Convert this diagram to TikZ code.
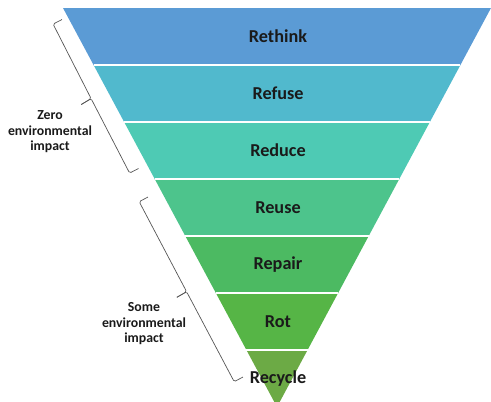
\documentclass[tikz,border=0pt]{standalone}
\usepackage{fontspec}
\setmainfont{Carlito}
\definecolor{cRethink}{HTML}{5B9BD5}
\definecolor{cRefuse}{HTML}{51B9CD}
\definecolor{cReduce}{HTML}{4ECAB4}
\definecolor{cReuse}{HTML}{4DC48C}
\definecolor{cRepair}{HTML}{4CBA62}
\definecolor{cRot}{HTML}{56B546}
\definecolor{cRecycle}{HTML}{6CAA45}
\definecolor{txt}{HTML}{1A1A1A}
\definecolor{brk}{HTML}{555555}
\begin{document}
\begin{tikzpicture}[x=1pt,y=-1pt,
  bandlabel/.style={font=\fontsize{18.2}{20}\selectfont\bfseries, text=txt, inner sep=0pt},
  sidelabel/.style={font=\fontsize{13.8}{15.5}\selectfont\bfseries, text=txt, align=center, inner sep=0pt},
  sep/.style={draw=white, line width=1.3pt},
  bracket/.style={draw=brk, line width=0.7pt, rounded corners=1.5pt}]
\useasboundingbox (0,0) rectangle (491,402);
% bands
\fill[cRethink]  (63,8) -- (491,8) -- (460.43,65) -- (93.57,65) -- cycle;
\fill[cRefuse]   (93.57,65) -- (460.43,65) -- (429.86,122) -- (124.14,122) -- cycle;
\fill[cReduce]   (124.14,122) -- (429.86,122) -- (399.29,179) -- (154.71,179) -- cycle;
\fill[cReuse]    (154.71,179) -- (399.29,179) -- (368.71,236) -- (185.29,236) -- cycle;
\fill[cRepair]   (185.29,236) -- (368.71,236) -- (338.14,293) -- (215.86,293) -- cycle;
\fill[cRot]      (215.86,293) -- (338.14,293) -- (307.57,350) -- (246.43,350) -- cycle;
\fill[cRecycle]  (246.43,350) -- (307.57,350) -- (277,407) -- cycle;
% separators
\draw[sep] (93.57,65) -- (460.43,65);
\draw[sep] (124.14,122) -- (429.86,122);
\draw[sep] (154.71,179) -- (399.29,179);
\draw[sep] (185.29,236) -- (368.71,236);
\draw[sep] (215.86,293) -- (338.14,293);
\draw[sep] (246.43,350) -- (307.57,350);
% band labels
\node[bandlabel] (rethink) at (278,36.5) {Rethink};
\node[bandlabel] (refuse)  at (278,93.5) {Refuse};
\node[bandlabel] (reduce)  at (278,150.5) {Reduce};
\node[bandlabel] (reuse)   at (278,207.5) {Reuse};
\node[bandlabel] (repair)  at (278,264.5) {Repair};
\node[bandlabel] (rot)     at (278,321.5) {Rot};
\node[bandlabel] (recycle) at (278,378.5) {Recycle};
% bracket 1 (zero impact)
\coordinate (z1) at (62,19.5);
\coordinate (z1b) at (53.1,24.1);
\coordinate (zm) at (91.1,98.6);
\coordinate (zt) at (81.3,104.5);
\coordinate (z2b) at (129.6,173.1);
\coordinate (z2) at (138.5,168.5);
\draw[bracket] (z1) -- (z1b) -- (zm) -- (zt);
\draw[bracket] (zt) -- (zm) -- (z2b) -- (z2);
% bracket 2 (some impact)
\coordinate (s1) at (148,197);
\coordinate (s1b) at (139.2,201.7);
\coordinate (sm) at (186.6,291.7);
\coordinate (st) at (176.9,297.3);
\coordinate (s2b) at (234.2,381.7);
\coordinate (s2) at (243,377);
\draw[bracket] (s1) -- (s1b) -- (sm) -- (st);
\draw[bracket] (st) -- (sm) -- (s2b) -- (s2);
% side labels
\node[sidelabel] (zero) at (50,132) {Zero\\environmental\\impact};
\node[sidelabel] (some) at (144,324) {Some\\environmental\\impact};
\end{tikzpicture}
\end{document}
